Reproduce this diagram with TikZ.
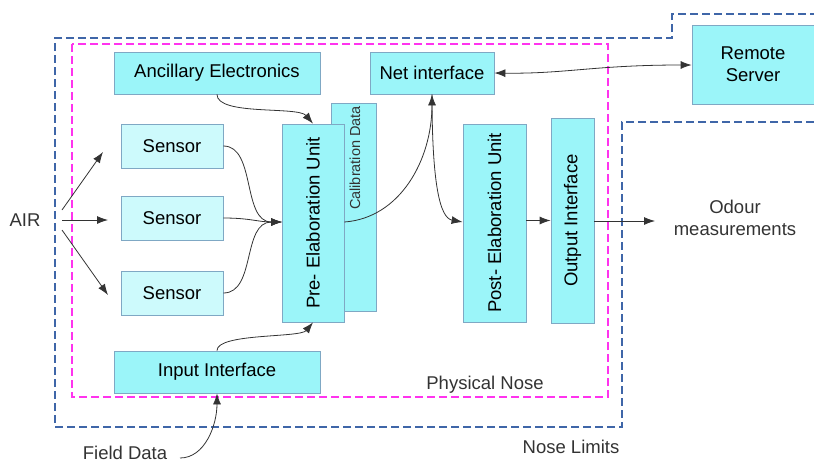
\documentclass[tikz,border=0pt]{standalone}
\usepackage{fontspec}
\setmainfont{Liberation Sans}
\usetikzlibrary{arrows.meta}
\definecolor{boxfill}{HTML}{9BF5F9}
\definecolor{sensfill}{HTML}{CDFAFC}
\definecolor{boxline}{HTML}{7FA8C4}
\definecolor{limitblue}{HTML}{3F66A8}
\definecolor{nosemag}{HTML}{FF33EE}
\definecolor{conn}{HTML}{333333}
\begin{document}
\begin{tikzpicture}[x=1pt,y=-1pt,
  font=\fontsize{18.5}{22}\selectfont,
  box/.style={draw=boxline,line width=0.8pt,fill=boxfill,inner sep=0pt,align=center},
  sensbox/.style={box,fill=sensfill},
  link/.style={draw=conn,line width=0.8pt,-{Latex[length=11pt,width=8pt]}},
  twolink/.style={draw=conn,line width=0.8pt,{Latex[length=11pt,width=8pt]}-{Latex[length=11pt,width=8pt]}},
  limits/.style={draw=limitblue,line width=2.4pt,dash pattern=on 8pt off 4pt},
  physnose/.style={draw=nosemag,line width=2.4pt,dash pattern=on 8pt off 4pt},
  lbl/.style={text=black!80,align=center,inner sep=0pt}
]
\useasboundingbox (0,0) rectangle (814,463);

% boundaries
\draw[limits] (814,122) -- (622,122) -- (622,427) -- (55,427) -- (55,38) -- (672,38) -- (672,14) -- (814,14);
\draw[physnose] (72,44) rectangle (608,397);

% boxes
\node[box,minimum width=206pt,minimum height=42pt] (anc) at (217,73) {Ancillary Electronics};
\node[box,minimum width=124pt,minimum height=42pt] (net) at (432,73) {Net interface};
\node[box,minimum width=122pt,minimum height=79pt] (rem) at (753,64.5) {Remote\\Server};
\node[sensbox,minimum width=102pt,minimum height=44pt] (s1) at (172,146) {Sensor};
\node[sensbox,minimum width=102pt,minimum height=44pt] (s2) at (172,218) {Sensor};
\node[sensbox,minimum width=102pt,minimum height=44pt] (s3) at (172,293) {Sensor};
\node[box,minimum width=45pt,minimum height=208pt] (cal) at (353.5,207) {};
\node[lbl,font=\fontsize{14.5}{17}\selectfont] (caltext) at (355,158) {\rotatebox{90}{Calibration Data}};
\node[box,minimum width=62pt,minimum height=198pt] (pre) at (313,223) {\rotatebox{90}{Pre- Elaboration Unit}};
\node[box,minimum width=63pt,minimum height=198pt] (post) at (494.5,223) {\rotatebox{90}{Post- Elaboration Unit}};
\node[box,minimum width=43pt,minimum height=205pt] (out) at (572.5,220.5) {\rotatebox{90}{Output Interface}};
\node[box,minimum width=206pt,minimum height=42pt] (inp) at (217,372) {Input Interface};

% labels
\node[lbl] (air) at (25,220) {AIR};
\node[lbl] (odour) at (735,218) {Odour\\measurements};
\node[lbl] (phys) at (485,385) {Physical Nose};
\node[lbl] (limtxt) at (571,447) {Nose Limits};
\node[lbl] (field) at (125,453) {Field Data};

% free ends
\coordinate (airA) at (62,210);
\coordinate (airB) at (62,220);
\coordinate (airC) at (62,230);
\coordinate (tipA) at (103,152);
\coordinate (tipB) at (108,220);
\coordinate (tipC) at (108,295);
\coordinate (odtip) at (655,221);
\coordinate (fieldout) at (180,458);
\coordinate (prein) at (282,222);

% connectors
\draw[link] (airA) -- (tipA);
\draw[link] (airB) -- (tipB);
\draw[link] (airC) -- (tipC);
\draw[link] (s1.east) .. controls (256,146) and (242,222) .. (prein);
\draw[link] (s2.east) .. controls (250,218) and (258,222) .. (prein);
\draw[link] (s3.east) .. controls (256,293) and (242,222) .. (prein);
\draw[link] (anc.south) .. controls (217,116) and (298,106) .. (pre.north);
\draw[link] (inp.north) .. controls (217,333) and (300,338) .. (pre.south);
\draw[link] (fieldout) .. controls (205,458) and (217,425) .. (inp.south);
\draw[link] (pre.east |- prein) .. controls (400,218) and (432,160) .. (net.south);
\draw[link] (net.south) .. controls (432,185) and (440,218) .. (post.west |- prein);
\draw[link] (post.east |- out.west) -- (out.west);
\draw[link] (out.east |- odtip) -- (odtip);
\draw[twolink] (net.east) .. controls (565,74) and (595,65) .. (rem.west |- 0,65);
\end{tikzpicture}
\end{document}
